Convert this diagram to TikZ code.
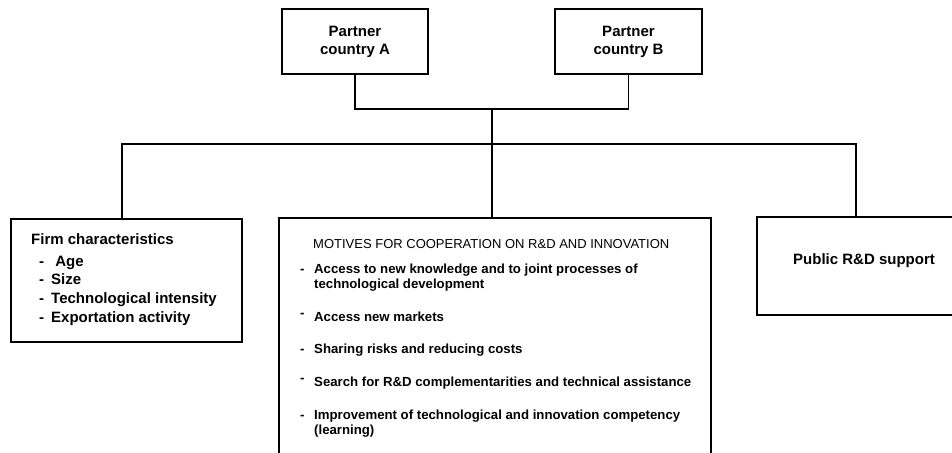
\documentclass[tikz,border=0pt]{standalone}
\usepackage{fontspec}
\setmainfont{Liberation Sans}
\begin{document}
\begin{tikzpicture}[x=1pt,y=-1pt,
	box/.style={draw,line width=1.5pt,inner sep=0pt},
	link/.style={line width=1.2pt},
	lbl/.style={anchor=base west,inner sep=0pt,font=\fontsize{15}{18}\selectfont\bfseries},
	item/.style={anchor=base west,inner sep=0pt,font=\fontsize{13.2}{15}\selectfont\bfseries}]
	\useasboundingbox (0,0) rectangle (952,452);
	\clip (0,0) rectangle (952,452);
	% partner countries
	\node[box,minimum width=146pt,minimum height=65pt,align=center,font=\fontsize{15}{18}\selectfont\bfseries] (pa) at (355,41.5) {Partner\\country A};
	\node[box,minimum width=147pt,minimum height=65pt,align=center,font=\fontsize{15}{18}\selectfont\bfseries] (pb) at (628.5,41.5) {Partner\\country B};
	% lower boxes
	\node[box,minimum width=231pt,minimum height=123pt] (fc) at (126.5,280.5) {};
	\node[box,minimum width=432pt,minimum height=252pt] (mv) at (495,344) {};
	\node[box,minimum width=201pt,minimum height=98pt] (pub) at (857.5,266) {};
	% firm characteristics
	\node[lbl] (fct) at (31,244) {Firm characteristics};
	\foreach \y/\t [count=\i] in {266/{\ Age},284/Size,303/Technological intensity,322/Exportation activity}{
		\node[lbl] (fd\i) at (39,\y) {-};
		\node[lbl] (fi\i) at (51,\y) {\t};
	}
	% motives
	\node[anchor=base west,inner sep=0pt,font=\fontsize{13}{15}\selectfont] (mvt) at (313,248) {MOTIVES FOR COOPERATION ON R\&D AND INNOVATION};
	\foreach \y/\r [count=\i] in {273/0,321/4,353/0,386/4,419/0}
		\node[item] (md\i) at (300,\y-\r) {-};
	\foreach \y/\t [count=\i] in {273/{Access to new knowledge and to joint processes of},
		288/{technological development},
		321/{Access new markets},
		353/{Sharing risks and reducing costs},
		386/{Search for R\&D complementarities and technical assistance},
		419/{Improvement of technological and innovation competency},
		434/{(learning)}}
		\node[item] (mi\i) at (314,\y) {\t};
	% public support
	\node[lbl] (pubt) at (793,264) {Public R\&D support};
	% connectors
	\coordinate (jn) at (492,109);
	\coordinate (busL) at (122,144);
	\coordinate (busR) at (856,144);
	\draw[link] (pa.south) |- (jn) -| (pb.south);
	\draw[link] (jn) -- (jn |- mv.north);
	\draw[link] (busL |- fc.north) -- (busL) -- (busR) -- (busR |- pub.north);
\end{tikzpicture}
\end{document}
